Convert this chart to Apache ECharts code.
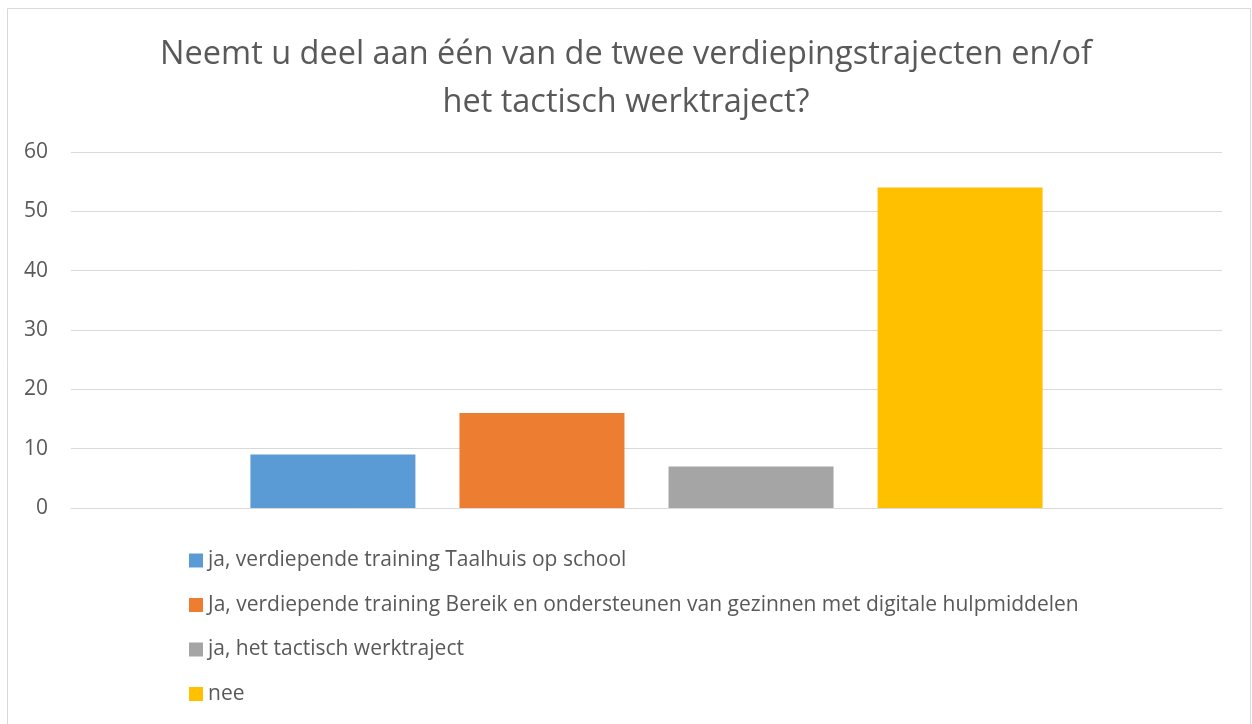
<!DOCTYPE html>
<html>
<head>
<meta charset="utf-8">
<script src="https://cdn.jsdelivr.net/npm/echarts@6/dist/echarts.min.js"></script>
<style>html,body{margin:0;padding:0;background:#fff;}#c{width:1252px;height:724px;}</style>
</head>
<body>
<div id="c"></div>
<script>
const categories = [''];
const seriesNames = [
  'ja, verdiepende training Taalhuis op school',
  'Ja, verdiepende training Bereik en ondersteunen van gezinnen met digitale hulpmiddelen',
  'ja, het tactisch werktraject',
  'nee'
];
const seriesValues = [9, 16, 7, 54];
const seriesColors = ['#5B9BD5', '#ED7D31', '#A5A5A5', '#FFC000'];
const yTicks = { min: 0, max: 60, interval: 10 };

const chart = echarts.init(document.getElementById('c'), null, { renderer: 'canvas' });
const font = '"Open Sans", "Noto Sans", sans-serif';
chart.setOption({
  animation: false,
  backgroundColor: '#fff',
  textStyle: { fontFamily: font },
  title: {
    text: 'Neemt u deel aan één van de twee verdiepingstrajecten en/of\nhet tactisch werktraject?',
    left: 'center',
    top: 26,
    textStyle: { fontSize: 32.5, fontWeight: 'normal', color: '#595959', lineHeight: 48, fontFamily: font }
  },
  graphic: [{
    type: 'rect', shape: { x: 7.5, y: 8.5, width: 1243, height: 730 },
    style: { fill: 'none', stroke: '#D9D9D9', lineWidth: 1 }, silent: true
  }],
  grid: { left: 71, right: 30, top: 152, bottom: 216, containLabel: false },
  legend: {
    orient: 'vertical', left: 184, top: 545,
    itemWidth: 14, itemHeight: 14, itemGap: 23.5,
    icon: 'rect',
    textStyle: { fontSize: 21, color: '#595959', fontFamily: font },
    data: seriesNames
  },
  xAxis: {
    type: 'category', data: categories,
    axisLine: { show: true, lineStyle: { color: '#D9D9D9', width: 1 } },
    axisTick: { show: false }, axisLabel: { show: false }
  },
  yAxis: {
    type: 'value', min: yTicks.min, max: yTicks.max, interval: yTicks.interval,
    axisLine: { show: false }, axisTick: { show: false },
    axisLabel: { fontSize: 21, color: '#595959', margin: 23, fontFamily: font },
    splitLine: { lineStyle: { color: '#D9D9D9', width: 1 } }
  },
  series: seriesNames.map((n, i) => ({
    name: n, type: 'bar', barWidth: 165, barGap: '26.7%',
    itemStyle: { color: seriesColors[i] },
    data: [seriesValues[i]]
  }))
});
</script>
</body>
</html>
